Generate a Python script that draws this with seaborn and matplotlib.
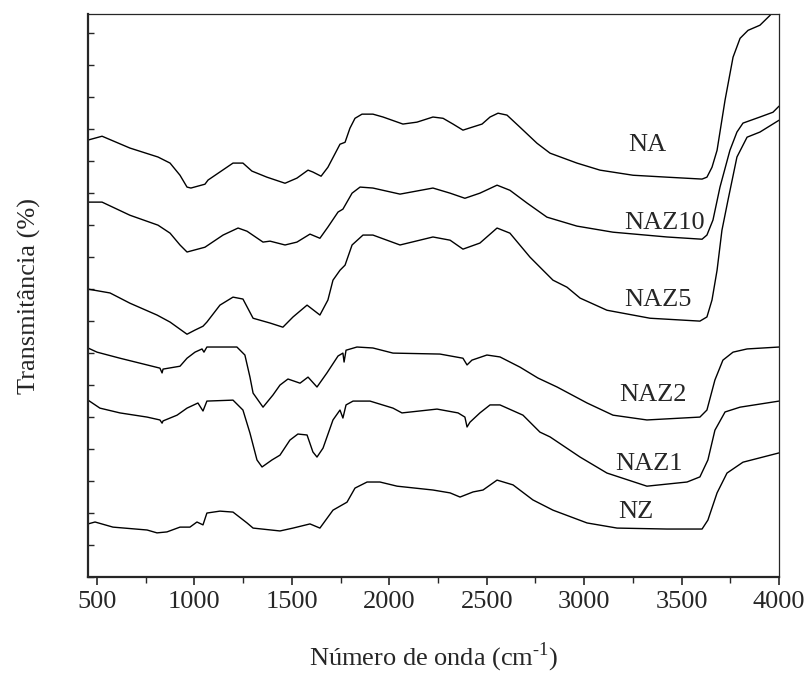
import numpy as np
import pandas as pd
import seaborn as sns
import matplotlib.pyplot as plt
from matplotlib.ticker import MultipleLocator

# espectros FTIR (unidades arbitrarias de transmitancia)
wn_NA = [454, 526, 669, 813, 875, 926, 962, 982, 1054, 1070, 1198, 1249, 1295, 1372, 1465, 1526, 1583, 1608,
         1650, 1685, 1747, 1773, 1798, 1824, 1860, 1916, 1968, 2070, 2142, 2224, 2276, 2327, 2378, 2424, 2476,
         2517, 2558, 2604, 2671, 2758, 2825, 2963, 3081, 3251, 3425, 3605, 3630, 3656, 3682, 3723, 3764, 3800,
         3841, 3902, 3954, 4000]
t_NA = [13.66, 13.78, 13.41, 13.13, 12.94, 12.56, 12.19, 12.16, 12.28, 12.41, 12.94, 12.94, 12.69, 12.50, 12.31,
        12.47, 12.72, 12.66, 12.53, 12.81, 13.53, 13.59, 14.03, 14.34, 14.47, 14.47, 14.38, 14.16, 14.22, 14.38,
        14.34, 14.16, 13.97, 14.06, 14.16, 14.38, 14.50, 14.44, 14.06, 13.56, 13.25, 12.94, 12.72, 12.56, 12.50,
        12.44, 12.50, 12.81, 13.34, 14.91, 16.25, 16.84, 17.09, 17.25, 17.56, 17.94]

wn_NAZ10 = [454, 526, 669, 813, 875, 926, 962, 1054, 1147, 1224, 1270, 1352, 1388, 1465, 1526, 1593, 1644, 1685,
            1737, 1762, 1809, 1850, 1916, 2055, 2224, 2312, 2388, 2465, 2553, 2619, 2707, 2809, 2963, 3148, 3425,
            3605, 3630, 3661, 3697, 3748, 3784, 3815, 3902, 3969, 4000]
t_NAZ10 = [11.72, 11.72, 11.31, 11.00, 10.75, 10.38, 10.16, 10.31, 10.69, 10.91, 10.81, 10.47, 10.50, 10.38,
           10.47, 10.72, 10.59, 10.94, 11.41, 11.50, 12.00, 12.19, 12.16, 11.97, 12.16, 12.00, 11.84, 12.00, 12.25,
           12.09, 11.69, 11.25, 10.97, 10.78, 10.63, 10.56, 10.69, 11.16, 12.19, 13.34, 13.91, 14.19, 14.38, 14.53,
           14.72]

wn_NAZ5 = [454, 567, 669, 808, 875, 962, 1003, 1044, 1064, 1131, 1198, 1249, 1301, 1388, 1454, 1506, 1578, 1644,
           1685, 1711, 1747, 1773, 1809, 1865, 1916, 2055, 2224, 2312, 2378, 2465, 2553, 2619, 2722, 2789, 2840,
           2912, 2979, 3117, 3338, 3594, 3630, 3656, 3682, 3707, 3738, 3784, 3836, 3902, 4000]
t_NAZ5 = [9.00, 8.88, 8.56, 8.19, 7.97, 7.59, 7.72, 7.84, 7.97, 8.50, 8.75, 8.69, 8.09, 7.94, 7.81, 8.13, 8.50,
          8.19, 8.66, 9.28, 9.59, 9.75, 10.38, 10.69, 10.69, 10.38, 10.63, 10.53, 10.25, 10.44, 10.91, 10.75, 10.00,
          9.59, 9.28, 9.06, 8.72, 8.34, 8.09, 8.00, 8.13, 8.66, 9.59, 10.84, 11.78, 13.13, 13.75, 13.91, 14.28]

wn_NAZ2 = [454, 500, 618, 757, 823, 834, 839, 926, 962, 1003, 1039, 1049, 1064, 1218, 1259, 1285, 1301, 1352, 1403,
           1439, 1480, 1542, 1583, 1629, 1680, 1737, 1762, 1768, 1778, 1834, 1916, 2019, 2260, 2378, 2399, 2424,
           2501, 2568, 2671, 2763, 2861, 3015, 3148, 3322, 3594, 3630, 3671, 3712, 3764, 3836, 4000]
t_NAZ2 = [7.16, 7.03, 6.84, 6.63, 6.53, 6.38, 6.50, 6.59, 6.84, 7.03, 7.13, 7.03, 7.19, 7.19, 6.94, 6.25, 5.75,
          5.31, 5.69, 6.00, 6.19, 6.06, 6.25, 5.94, 6.38, 6.91, 7.00, 6.72, 7.09, 7.19, 7.16, 7.00, 6.97, 6.84, 6.63,
          6.78, 6.94, 6.88, 6.56, 6.22, 5.94, 5.44, 5.06, 4.91, 5.00, 5.22, 6.16, 6.78, 7.03, 7.13, 7.19]

wn_NAZ1 = [454, 515, 618, 757, 823, 834, 839, 911, 962, 1018, 1044, 1064, 1198, 1249, 1285, 1321, 1347, 1398, 1439,
           1490, 1531, 1578, 1608, 1629, 1660, 1711, 1747, 1762, 1778, 1814, 1901, 2019, 2065, 2245, 2353, 2388,
           2399, 2414, 2465, 2517, 2568, 2686, 2773, 2825, 2979, 3117, 3322, 3528, 3594, 3635, 3671, 3723, 3800, 4000]
t_NAZ1 = [5.53, 5.28, 5.13, 5.00, 4.91, 4.81, 4.88, 5.06, 5.28, 5.44, 5.19, 5.50, 5.53, 5.22, 4.50, 3.66, 3.44,
          3.66, 3.81, 4.28, 4.47, 4.44, 3.91, 3.75, 4.03, 4.91, 5.22, 4.97, 5.38, 5.50, 5.50, 5.28, 5.13, 5.25, 5.13,
          5.00, 4.69, 4.84, 5.13, 5.38, 5.38, 5.06, 4.53, 4.38, 3.75, 3.25, 2.84, 2.97, 3.13, 3.66, 4.59, 5.16, 5.31,
          5.50]

wn_NZ = [454, 490, 582, 757, 808, 859, 926, 977, 1013, 1044, 1064, 1131, 1198, 1270, 1301, 1439, 1506, 1593, 1644,
         1711, 1783, 1824, 1886, 1952, 2040, 2224, 2312, 2363, 2430, 2481, 2553, 2635, 2737, 2840, 3015, 3169, 3425,
         3605, 3635, 3682, 3733, 3815, 4000]
t_NZ = [1.66, 1.72, 1.56, 1.47, 1.38, 1.41, 1.56, 1.56, 1.72, 1.63, 2.00, 2.06, 2.03, 1.69, 1.53, 1.44, 1.53, 1.66,
        1.53, 2.09, 2.34, 2.78, 2.97, 2.97, 2.84, 2.72, 2.63, 2.50, 2.66, 2.72, 3.03, 2.88, 2.41, 2.09, 1.69, 1.53,
        1.50, 1.50, 1.78, 2.63, 3.25, 3.59, 3.88]

amostras = ['NA', 'NAZ10', 'NAZ5', 'NAZ2', 'NAZ1', 'NZ']
# posicao dos rotulos (numero de onda, transmitancia)
rot_x = [3322, 3410, 3379, 3353, 3333, 3266]
rot_y = [13.50, 11.06, 8.66, 5.69, 3.53, 2.03]

series = {'NA': (wn_NA, t_NA), 'NAZ10': (wn_NAZ10, t_NAZ10), 'NAZ5': (wn_NAZ5, t_NAZ5),
          'NAZ2': (wn_NAZ2, t_NAZ2), 'NAZ1': (wn_NAZ1, t_NAZ1), 'NZ': (wn_NZ, t_NZ)}

sns.set_style('ticks')
plt.rcParams['font.family'] = ['Liberation Serif', 'DejaVu Serif']
plt.rcParams['mathtext.fontset'] = 'custom'
plt.rcParams['mathtext.rm'] = 'Liberation Serif'

fig = plt.figure(figsize=(8.12, 6.84), dpi=100)
ax = fig.add_axes([0.1084, 0.1564, 0.8510, 0.8231])

for nome in amostras:
    x, y = series[nome]
    df = pd.DataFrame({'wn': x, 't': y})
    sns.lineplot(data=df, x='wn', y='t', ax=ax, color='black', linewidth=1.0, sort=False, estimator=None)

for nome, xx, yy in zip(amostras, rot_x, rot_y):
    ax.text(xx, yy, nome, fontsize=19, ha='center', va='center')

ax.set_xlim(454, 4000)
ax.set_ylim(0, 17.6)
ax.xaxis.set_major_locator(MultipleLocator(500))
ax.xaxis.set_minor_locator(MultipleLocator(250))
ax.yaxis.set_major_locator(MultipleLocator(1))
ax.tick_params(axis='x', which='major', direction='out', length=6, width=1.2, labelsize=19, pad=4)
ax.tick_params(axis='x', which='minor', direction='out', length=4, width=1.0)
ax.tick_params(axis='y', which='major', direction='in', length=4, width=1.0, labelleft=False)
for s in ['left', 'bottom']:
    ax.spines[s].set_linewidth(1.6)
for s in ['top', 'right']:
    ax.spines[s].set_linewidth(0.9)

# hifen (U+2010) no expoente, como no original
ax.set_xlabel('Número de onda (cm$^{\\mathregular{\u20101}}$)', fontsize=19, labelpad=20)
ax.set_ylabel('Transmitância (%)', fontsize=19, labelpad=34)

fig.savefig('out.png', dpi=100)
